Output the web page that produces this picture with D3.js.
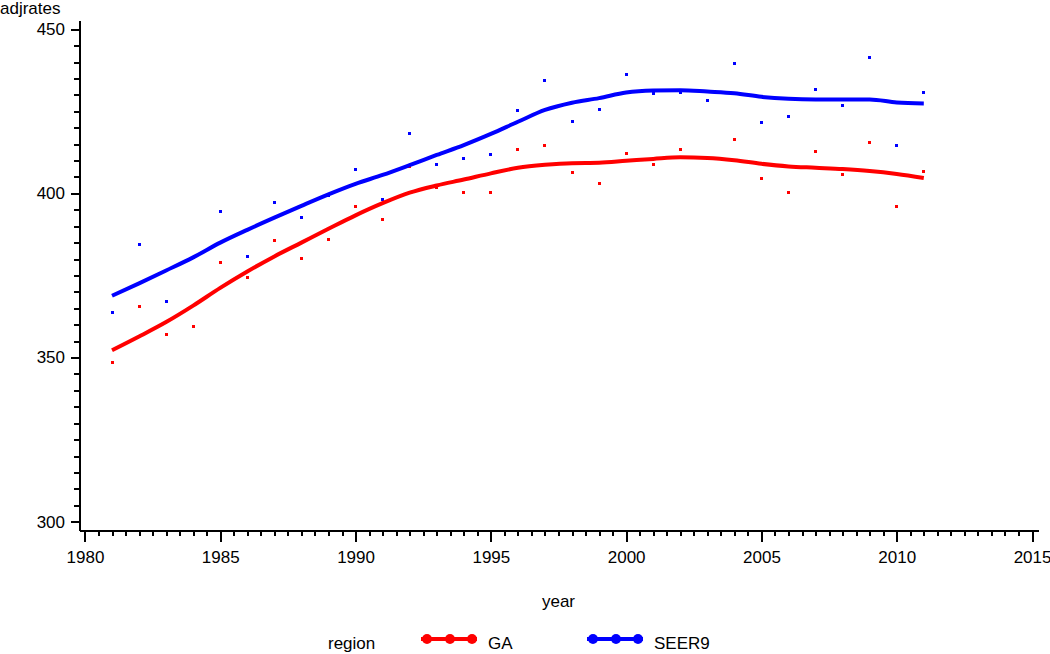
<!DOCTYPE html>
<html>
<head>
<meta charset="utf-8">
<script src="https://cdn.jsdelivr.net/npm/d3@7"></script>
<style>
  html, body { margin: 0; padding: 0; background: #fff; }
  svg text { font-family: "Liberation Sans", Arial, sans-serif; fill: #000; }
</style>
</head>
<body>
<div id="chart"></div>
<script>
// observed yearly rates
var years = [1981,1982,1983,1984,1985,1986,1987,1988,1989,1990,1991,1992,1993,1994,1995,1996,
             1997,1998,1999,2000,2001,2002,2003,2004,2005,2006,2007,2008,2009,2010,2011];
var gaRates    = [348.6,365.5,356.9,359.4,378.9,374.5,385.7,380.2,385.9,395.9,391.9,408.3,401.7,400.2,400.2,413.3,
                  414.5,406.3,403.0,412.0,408.9,413.3,410.7,416.3,404.6,400.2,412.9,405.6,415.4,396.0,406.8];
var seer9Rates = [363.7,384.4,367.2,380.4,394.5,380.8,397.2,392.8,399.5,407.3,398.2,418.1,408.9,410.5,411.9,425.2,
                  434.5,421.9,425.4,436.3,430.3,430.7,428.4,439.7,421.5,423.3,431.5,426.7,441.5,414.5,430.7];

// smoothed (loess) fit read at each year
var gaFit    = [352.2,356.4,360.8,365.8,371.2,376.2,380.8,385.0,389.2,393.3,397.0,400.2,402.4,404.2,406.1,407.8,
                408.7,409.2,409.3,409.9,410.5,411.0,410.8,410.1,409.0,408.2,407.8,407.4,406.8,405.9,404.7];
var seer9Fit = [368.8,372.6,376.5,380.5,385.0,388.9,392.6,396.2,399.7,402.9,405.6,408.6,411.7,414.7,418.1,421.8,
                425.4,427.6,429.0,430.7,431.3,431.4,431.0,430.5,429.4,428.8,428.6,428.6,428.6,427.7,427.4];

var regions = ["GA", "SEER9"];
var colors  = ["#ff0000", "#0000ff"];

var xMajor = [1980,1985,1990,1995,2000,2005,2010,2015];
var yMajor = [300,350,400,450];

var W = 1050, H = 654;
var fontSize = "17px";

var svg = d3.select("#chart").append("svg")
    .attr("width", W)
    .attr("height", H);

var x = d3.scaleLinear().domain([1979.78, 2015.22]).range([79, 1038]);
var y = d3.scaleLinear().domain([297.26, 452.8]).range([530.7, 20]);

// x axis: minor every half year, major every 5
var xMinor = d3.range(1980, 2015.01, 0.5).filter(function(v){ return v % 5 !== 0; });
var xAxisG = svg.append("g").attr("transform", "translate(0," + y.range()[0] + ")");
xAxisG.call(d3.axisBottom(x).tickValues(xMajor).tickSize(11).tickSizeOuter(0).tickPadding(9).tickFormat(d3.format("d")));
xAxisG.append("g").call(d3.axisBottom(x).tickValues(xMinor).tickSize(5).tickSizeOuter(0).tickFormat(""))
    .select(".domain").remove();

// y axis: minor every 5, major every 50
var yMinor = d3.range(300, 451, 5).filter(function(v){ return v % 50 !== 0; });
var yAxisG = svg.append("g").attr("transform", "translate(" + x.range()[0] + ",0)");
yAxisG.call(d3.axisLeft(y).tickValues(yMajor).tickSize(8).tickSizeOuter(0).tickPadding(6));
yAxisG.append("g").call(d3.axisLeft(y).tickValues(yMinor).tickSize(5).tickSizeOuter(0).tickFormat(""))
    .select(".domain").remove();

svg.selectAll(".domain, .tick line")
    .attr("stroke", "#000")
    .attr("stroke-width", 2)
    .attr("shape-rendering", "crispEdges");
svg.selectAll(".tick text")
    .style("font-size", fontSize)
    .attr("fill", "#000");

// axis titles
svg.append("text")
    .attr("x", 0)
    .attr("y", 14)
    .style("font-size", fontSize)
    .text("adjrates");

svg.append("text")
    .attr("x", (x.range()[0] + x.range()[1]) / 2)
    .attr("y", 607)
    .attr("text-anchor", "middle")
    .style("font-size", fontSize)
    .text("year");

var series = [
  { name: regions[0], color: colors[0], pts: gaRates,    fit: gaFit },
  { name: regions[1], color: colors[1], pts: seer9Rates, fit: seer9Fit }
];

// scatter points
series.forEach(function(s) {
  svg.append("g").selectAll("rect")
    .data(s.pts)
    .enter().append("rect")
      .attr("x", function(d, i){ return Math.round(x(years[i]) - 1.5); })
      .attr("y", function(d){ return Math.round(y(d) - 1.5); })
      .attr("width", 3)
      .attr("height", 3)
      .attr("fill", s.color);
});

// smoothed curves
var line = d3.line()
    .x(function(d, i){ return x(years[i]); })
    .y(function(d){ return y(d); })
    .curve(d3.curveMonotoneX);

series.forEach(function(s) {
  svg.append("path")
    .datum(s.fit)
    .attr("d", line)
    .attr("fill", "none")
    .attr("stroke", s.color)
    .attr("stroke-width", 4);
});

// legend
var legY = 639;
svg.append("text")
    .attr("x", 328)
    .attr("y", legY + 10)
    .style("font-size", fontSize)
    .text("region");

var legX = [421, 587];
series.forEach(function(s, i) {
  var g = svg.append("g").attr("transform", "translate(" + legX[i] + "," + legY + ")");
  g.append("line")
    .attr("x1", 0).attr("x2", 56)
    .attr("stroke", s.color)
    .attr("stroke-width", 4);
  g.selectAll("circle")
    .data([6, 29, 51])
    .enter().append("circle")
      .attr("cx", function(d){ return d; })
      .attr("r", 5)
      .attr("fill", s.color);
  g.append("text")
    .attr("x", 67)
    .attr("y", 10)
    .style("font-size", fontSize)
    .text(s.name);
});
</script>
</body>
</html>
